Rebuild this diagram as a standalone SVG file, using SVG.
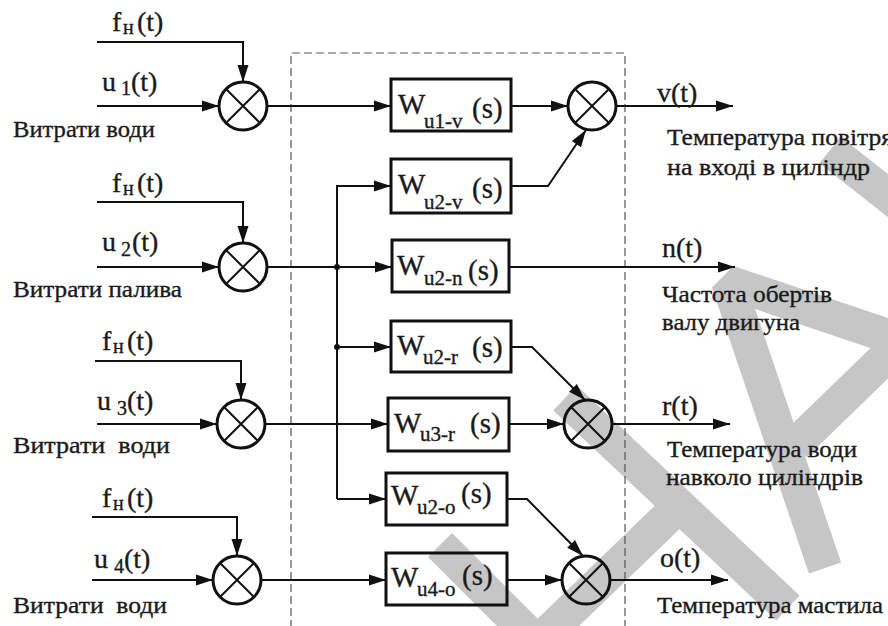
<svg xmlns="http://www.w3.org/2000/svg" width="888" height="626" viewBox="0 0 888 626" font-family="'Liberation Serif', 'DejaVu Serif', serif">
<defs>
<marker id="ah" markerUnits="userSpaceOnUse" markerWidth="18" markerHeight="12" refX="17" refY="6" orient="auto" overflow="visible"><path d="M0,0.5 L17,6 L0,11.5 z" fill="#111"/></marker>
</defs>
<style>
.wm{fill:none;stroke:#c6c6c6;stroke-width:34;stroke-linecap:butt;stroke-linejoin:bevel}
.ln{fill:none;stroke:#111;stroke-width:2}
.ar{marker-end:url(#ah)}
.box{fill:none;stroke:#111;stroke-width:3}
.sum circle{fill:none;stroke:#111;stroke-width:3}
.sum path{stroke:#111;stroke-width:2;fill:none}
.dash{fill:none;stroke:#555;stroke-width:1.2;stroke-dasharray:8 4}
.dot{fill:#111}
text{fill:#1a1a1a;stroke:#1a1a1a;stroke-width:0.35px}
.lab{font-size:28px}
.sub{font-size:20px}
.desc{font-size:23px;white-space:pre}
.w{font-size:29px}
.ws{font-size:21px}
</style>

<g id="watermark">
<path class="wm" d="M565,398 L788,608"/>
<path class="wm" d="M680,505 L540,640"/>
<path class="wm" d="M440,545 L535,640"/>
<path class="wm" d="M825,568 L728,282 L900,340"/>
<path class="wm" d="M795,445 L895,348"/>
<path class="wm" d="M830,150 L900,205"/>
</g>

<g id="frame">
<path class="dash" d="M291,640 V53 H625 V640"/>
</g>

<g id="connectors">
<path class="ln ar" d="M97,42 H243 V82"/>
<path class="ln ar" d="M97,106 H219"/>
<path class="ln ar" d="M267,106 H391"/>
<path class="ln ar" d="M511,106 H568"/>
<path class="ln ar" d="M616,106 H733"/>

<path class="ln ar" d="M97,202 H243 V243"/>
<path class="ln ar" d="M97,267 H219"/>
<path class="ln ar" d="M267,267 H392"/>
<path class="ln ar" d="M509,267 H735"/>

<path class="ln ar" d="M337,499 V186 H391"/>
<path class="ln ar" d="M511,186 H548 L586,130"/>
<path class="ln ar" d="M337,347 H391"/>
<path class="ln ar" d="M511,347 H532 L585,400"/>
<path class="ln ar" d="M337,499 H386"/>
<path class="ln ar" d="M507,499 H527 L583,556"/>

<path class="ln ar" d="M95,361 H241 V400"/>
<path class="ln ar" d="M97,424 H217"/>
<path class="ln ar" d="M265,424 H388"/>
<path class="ln ar" d="M509,424 H564"/>
<path class="ln ar" d="M612,424 H730"/>

<path class="ln ar" d="M92,517 H237 V556"/>
<path class="ln ar" d="M92,580 H213"/>
<path class="ln ar" d="M261,580 H386"/>
<path class="ln ar" d="M507,580 H562"/>
<path class="ln ar" d="M610,580 H728"/>

<circle class="dot" cx="337" cy="267" r="3"/>
<circle class="dot" cx="337" cy="347" r="3"/>
</g>

<g id="sum1" class="sum"><circle cx="243" cy="106" r="24"/><path d="M226,89 L260,123 M260,89 L226,123"/></g>
<g id="sum2" class="sum"><circle cx="243" cy="267" r="24"/><path d="M226,250 L260,284 M260,250 L226,284"/></g>
<g id="sum3" class="sum"><circle cx="241" cy="424" r="24"/><path d="M224,407 L258,441 M258,407 L224,441"/></g>
<g id="sum4" class="sum"><circle cx="237" cy="580" r="24"/><path d="M220,563 L254,597 M254,563 L220,597"/></g>
<g id="sum-v" class="sum"><circle cx="592" cy="106" r="24"/><path d="M575,89 L609,123 M609,89 L575,123"/></g>
<g id="sum-r" class="sum"><circle cx="588" cy="424" r="24"/><path d="M571,407 L605,441 M605,407 L571,441"/></g>
<g id="sum-o" class="sum"><circle cx="586" cy="580" r="24"/><path d="M569,563 L603,597 M603,563 L569,597"/></g>

<g id="W-u1-v"><rect class="box" x="391" y="79" width="120" height="52"/>
<text><tspan class="w" x="398" y="114">W</tspan><tspan class="ws" x="424" y="128">u1-v</tspan><tspan class="w" x="472" y="118">(s)</tspan></text></g>
<g id="W-u2-v"><rect class="box" x="391" y="159" width="120" height="54"/>
<text><tspan class="w" x="398" y="194">W</tspan><tspan class="ws" x="424" y="209">u2-v</tspan><tspan class="w" x="472" y="198">(s)</tspan></text></g>
<g id="W-u2-n"><rect class="box" x="392" y="240" width="117" height="52"/>
<text><tspan class="w" x="397" y="275">W</tspan><tspan class="ws" x="424" y="285">u2-n</tspan><tspan class="w" x="468" y="280">(s)</tspan></text></g>
<g id="W-u2-r"><rect class="box" x="391" y="321" width="120" height="51"/>
<text><tspan class="w" x="397" y="355">W</tspan><tspan class="ws" x="423" y="364">u2-r</tspan><tspan class="w" x="472" y="357">(s)</tspan></text></g>
<g id="W-u3-r"><rect class="box" x="388" y="398" width="121" height="53"/>
<text><tspan class="w" x="394" y="433">W</tspan><tspan class="ws" x="420" y="441">u3-r</tspan><tspan class="w" x="470" y="433">(s)</tspan></text></g>
<g id="W-u2-o"><rect class="box" x="386" y="473" width="121" height="52"/>
<text><tspan class="w" x="391" y="505">W</tspan><tspan class="ws" x="417" y="514">u2-o</tspan><tspan class="w" x="461" y="503">(s)</tspan></text></g>
<g id="W-u4-o"><rect class="box" x="386" y="553" width="121" height="52"/>
<text><tspan class="w" x="391" y="587">W</tspan><tspan class="ws" x="417" y="596">u4-o</tspan><tspan class="w" x="462" y="585">(s)</tspan></text></g>

<g id="inputs">
<text class="lab"><tspan x="112" y="31">f</tspan><tspan class="sub" x="123" y="34">н</tspan><tspan x="137" y="31">(t)</tspan></text>
<text class="lab"><tspan x="102" y="91">u</tspan><tspan class="sub" x="121" y="95">1</tspan><tspan x="131" y="91">(t)</tspan></text>
<text class="desc" x="13" y="137" textLength="142" lengthAdjust="spacingAndGlyphs">Витрати води</text>

<text class="lab"><tspan x="112" y="192">f</tspan><tspan class="sub" x="123" y="195">н</tspan><tspan x="137" y="192">(t)</tspan></text>
<text class="lab"><tspan x="102" y="251">u</tspan><tspan class="sub" x="121" y="256">2</tspan><tspan x="132" y="251">(t)</tspan></text>
<text class="desc" x="13" y="297" textLength="169" lengthAdjust="spacingAndGlyphs">Витрати палива</text>

<text class="lab"><tspan x="102" y="350">f</tspan><tspan class="sub" x="113" y="353">н</tspan><tspan x="127" y="350">(t)</tspan></text>
<text class="lab"><tspan x="97" y="410">u</tspan><tspan class="sub" x="117" y="415">3</tspan><tspan x="127" y="410">(t)</tspan></text>
<text class="desc" x="13" y="453" textLength="157" lengthAdjust="spacingAndGlyphs">Витрати  води</text>

<text class="lab"><tspan x="102" y="507">f</tspan><tspan class="sub" x="113" y="510">н</tspan><tspan x="127" y="507">(t)</tspan></text>
<text class="lab"><tspan x="94" y="568">u</tspan><tspan class="sub" x="114" y="573">4</tspan><tspan x="124" y="568">(t)</tspan></text>
<text class="desc" x="13" y="613" textLength="154" lengthAdjust="spacingAndGlyphs">Витрати  води</text>
</g>

<g id="outputs">
<text class="lab" x="657" y="102">v(t)</text>
<text class="desc" x="667" y="145" textLength="226" lengthAdjust="spacingAndGlyphs">Температура повітря</text>
<text class="desc" x="667" y="175" textLength="203" lengthAdjust="spacingAndGlyphs">на вході в циліндр</text>

<text class="lab" x="662" y="257">n(t)</text>
<text class="desc" x="662" y="302" textLength="170" lengthAdjust="spacingAndGlyphs">Частота обертів</text>
<text class="desc" x="662" y="330" textLength="138" lengthAdjust="spacingAndGlyphs">валу двигуна</text>

<text class="lab" x="662" y="415">r(t)</text>
<text class="desc" x="667" y="457" textLength="190" lengthAdjust="spacingAndGlyphs">Температура води</text>
<text class="desc" x="666" y="485" textLength="197" lengthAdjust="spacingAndGlyphs">навколо циліндрів</text>

<text class="lab" x="660" y="567">o(t)</text>
<text class="desc" x="657" y="613" textLength="226" lengthAdjust="spacingAndGlyphs">Температура мастила</text>
</g>
</svg>
